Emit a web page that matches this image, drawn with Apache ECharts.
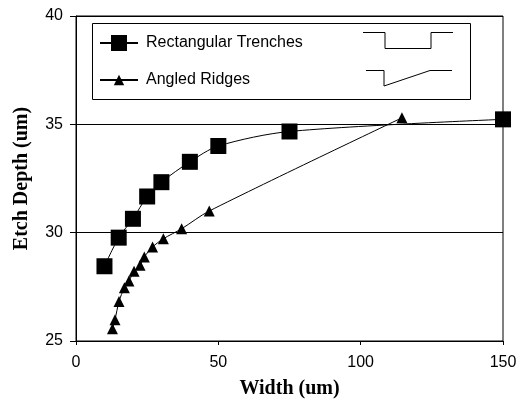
<!DOCTYPE html>
<html>
<head>
<meta charset="utf-8">
<script src="https://cdn.jsdelivr.net/npm/echarts@6/dist/echarts.min.js"></script>
<style>html,body{margin:0;padding:0;background:#fff}#c{width:523px;height:404px}</style>
</head>
<body>
<div id="c"></div>
<script>
const seriesNames = ['Rectangular Trenches', 'Angled Ridges'];
const trenchWidth = [10, 15, 20, 25, 30, 40, 50, 75, 150];
const trenchDepth = [28.45, 29.77, 30.64, 31.67, 32.33, 33.27, 34.0, 34.67, 35.23];
const ridgeWidth = [12.8, 13.7, 15.1, 17.0, 18.6, 20.4, 22.5, 24.0, 26.9, 30.7, 37.1, 46.8, 114.5];
const ridgeDepth = [25.56, 25.98, 26.82, 27.46, 27.77, 28.22, 28.5, 28.88, 29.34, 29.72, 30.18, 31.0, 35.3];
const xTicks = [0, 50, 100, 150];
const yTicks = [25, 30, 35, 40];

const chart = echarts.init(document.getElementById('c'));
const axisText = { color: '#000', fontSize: 16, fontFamily: 'Liberation Sans, Arial, sans-serif' };
const titleText = { color: '#000', fontSize: 20, fontWeight: 'bold', fontFamily: 'Liberation Serif, Times New Roman, serif' };
chart.setOption({
  animation: false,
  backgroundColor: '#fff',
  grid: { left: 76, right: 20, top: 16, bottom: 61, show: true, borderColor: '#000', borderWidth: 1, backgroundColor: 'transparent' },
  xAxis: {
    type: 'value', min: xTicks[0], max: xTicks[xTicks.length - 1], interval: 50,
    name: 'Width (um)', nameLocation: 'middle', nameGap: 38, nameTextStyle: titleText,
    axisLine: { lineStyle: { color: '#000', width: 1 } },
    axisTick: { show: true, inside: false, length: 4, lineStyle: { color: '#000' } },
    axisLabel: Object.assign({ margin: 14 }, axisText),
    splitLine: { show: false }
  },
  yAxis: {
    type: 'value', min: yTicks[0], max: yTicks[yTicks.length - 1], interval: 5,
    name: 'Etch Depth (um)', nameLocation: 'middle', nameGap: 44, nameTextStyle: titleText,
    axisLine: { show: true, lineStyle: { color: '#000', width: 1 } },
    axisTick: { show: true, inside: false, length: 6, lineStyle: { color: '#000' } },
    axisLabel: Object.assign({ margin: 13 }, axisText),
    splitLine: { show: true, lineStyle: { color: '#000', width: 1 } }
  },
  legend: [
    {
      data: [seriesNames[0]], orient: 'vertical', left: 99, top: 35, padding: 0,
      itemWidth: 38, itemHeight: 20, textStyle: Object.assign({ padding: [0, 0, 0, 3] }, axisText, { fontSize: 16 })
    },
    {
      data: [seriesNames[1]], orient: 'vertical', left: 99, top: 72, padding: 0,
      itemWidth: 38, itemHeight: 13, textStyle: Object.assign({ padding: [0, 0, 0, 3] }, axisText, { fontSize: 16 })
    }
  ],
  graphic: [
    { type: 'rect', shape: { x: 92.5, y: 23.5, width: 378, height: 76 }, style: { fill: 'none', stroke: '#000', lineWidth: 1 }, z: 10 },
    { type: 'polyline', shape: { points: [[363, 32.5], [385, 32.5], [385, 48.5], [431, 48.5], [431, 32.5], [453, 32.5]] }, style: { fill: 'none', stroke: '#000', lineWidth: 1 }, z: 10 },
    { type: 'polyline', shape: { points: [[366, 70.5], [384, 70.5], [384, 86], [430, 70.5], [452, 70.5]] }, style: { fill: 'none', stroke: '#000', lineWidth: 1 }, z: 10 }
  ],
  series: [
    {
      name: seriesNames[0], type: 'line', smooth: 0.3,
      data: trenchWidth.map((w, i) => [w, trenchDepth[i]]),
      symbol: 'rect', symbolSize: 16,
      lineStyle: { color: '#000', width: 1 }, itemStyle: { color: '#000' }, z: 5
    },
    {
      name: seriesNames[1], type: 'line', smooth: 0.3,
      data: ridgeWidth.map((w, i) => [w, ridgeDepth[i]]),
      symbol: 'triangle', symbolSize: 11,
      lineStyle: { color: '#000', width: 1 }, itemStyle: { color: '#000' }, z: 5
    }
  ]
});
</script>
</body>
</html>
